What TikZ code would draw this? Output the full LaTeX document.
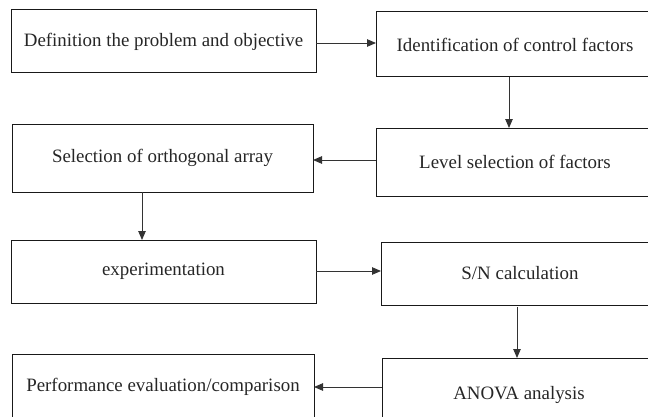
\documentclass[tikz,border=0pt]{standalone}
\usepackage{fontspec}
\setmainfont{Liberation Serif}
\usetikzlibrary{arrows.meta}
\begin{document}
\begin{tikzpicture}[x=1pt,y=1pt,
  box/.style={draw=black!90, line width=1pt, inner sep=0pt, outer sep=0pt,
    text=black!85, font=\fontsize{18.9}{22}\selectfont},
  conn/.style={draw=black!80, line width=0.9pt, -{Triangle[length=9pt,width=7.5pt]}}]
\useasboundingbox (0,0) rectangle (648,416);
\clip (0,0) rectangle (648,416);
% boxes (image y measured downward, converted by 416 - y)
\node[box, minimum width=305pt, minimum height=63pt] (b1) at (163.5,374.5) {\raisebox{-2pt}{Definition the problem and objective}};
\node[box, minimum width=278pt, minimum height=65pt] (b2) at (515,371.5) {\raisebox{-1pt}{Identification of control factors}};
\node[box, minimum width=301pt, minimum height=68pt] (b3) at (162.5,258) {\raisebox{-1pt}{Selection of orthogonal array}};
\node[box, minimum width=278pt, minimum height=68pt] (b4) at (515,254) {\raisebox{-2pt}{Level selection of factors}};
\node[box, minimum width=305pt, minimum height=63pt] (b5) at (163.5,144.5) {\raisebox{-1pt}{experimentation}};
\node[box, minimum width=278pt, minimum height=63pt] (b6) at (520,142.5) {\raisebox{-1pt}{S/N calculation}};
\node[box, minimum width=302pt, minimum height=66pt] (b7) at (163,29) {Performance evaluation/comparison};
\node[box, minimum width=274pt, minimum height=74pt] (b8) at (519,21) {ANOVA analysis};
% connectors
\coordinate (c1) at (b1.east |- 0,373);
\draw[conn] (c1) -- (c1 -| b2.west);
\coordinate (c2) at (509,0);
\draw[conn] (c2 |- b2.south) -- (c2 |- b4.north);
\coordinate (c3) at (0,256);
\draw[conn] (c3 -| b4.west) -- (c3 -| b3.east);
\coordinate (c4) at (142,0);
\draw[conn] (c4 |- b3.south) -- (c4 |- b5.north);
\coordinate (c5) at (0,145);
\draw[conn] (c5 -| b5.east) -- (c5 -| b6.west);
\coordinate (c6) at (517,0);
\draw[conn] ([yshift=-2pt]c6 |- b6.south) -- (c6 |- b8.north);
\coordinate (c7) at (0,29);
\draw[conn] (c7 -| b8.west) -- (c7 -| b7.east);
\end{tikzpicture}
\end{document}
